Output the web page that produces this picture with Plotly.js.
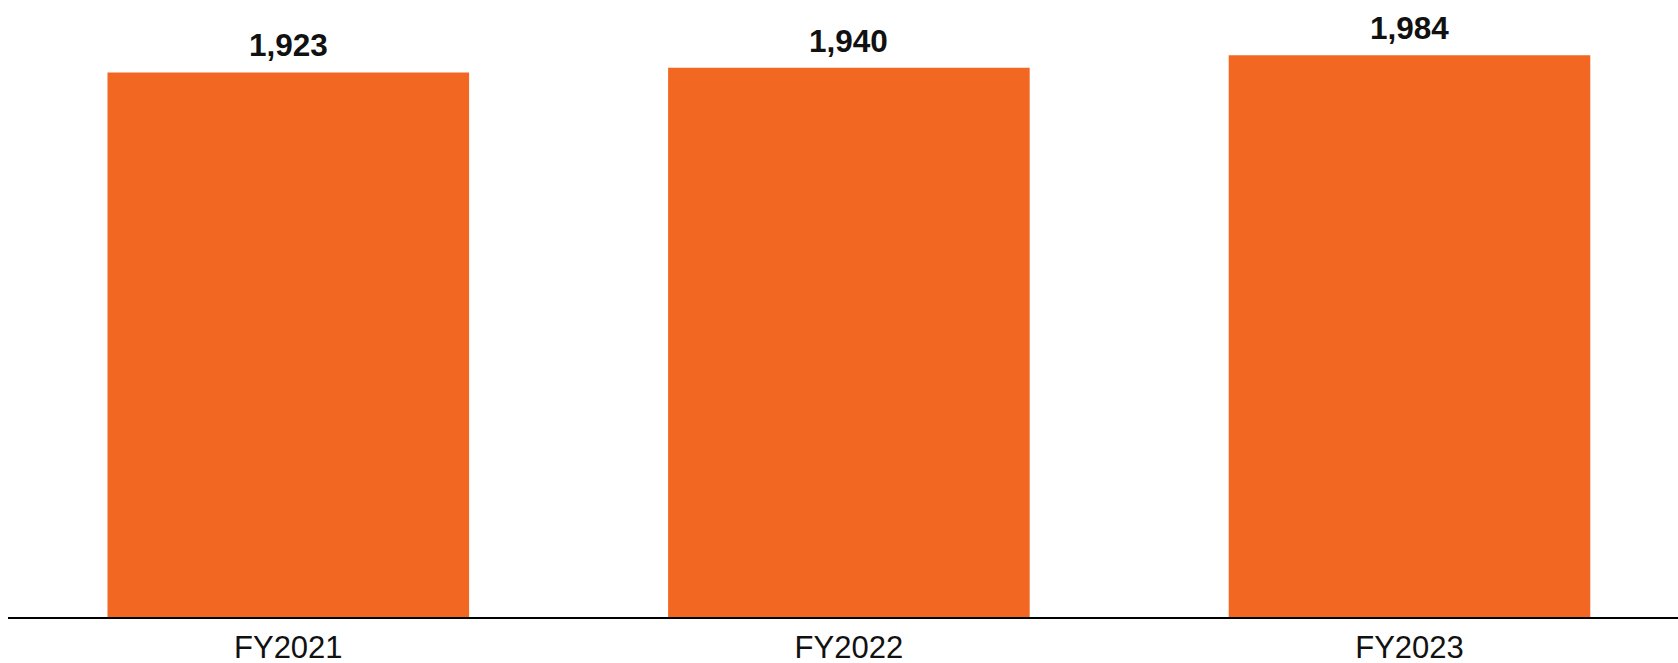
<!DOCTYPE html>
<html>
<head>
<meta charset="utf-8">
<script src="https://cdn.plot.ly/plotly-3.0.1.min.js"></script>
<style>
  html, body { margin: 0; padding: 0; background: #ffffff; }
  #chart { width: 1678px; height: 663px; }
</style>
</head>
<body>
<div id="chart"></div>
<script>
// Fiscal years and their values
const years = ['FY2021', 'FY2022', 'FY2023'];
const values = [1923, 1940, 1984];

const barColor = '#F26722';
const fontFamily = '"Liberation Sans", Arial, sans-serif';

const bars = {
  type: 'bar',
  x: years,
  y: values,
  marker: { color: barColor, line: { width: 0 } },
  hoverinfo: 'skip'
};

// Value labels above each bar
const labels = years.map((yr, i) => ({
  x: yr,
  y: values[i],
  xref: 'x',
  yref: 'y',
  text: '<b>' + values[i].toLocaleString('en-US') + '</b>',
  showarrow: false,
  yanchor: 'bottom',
  yshift: 7,
  font: { family: fontFamily, size: 31.5, color: '#111111' }
}));

const layout = {
  width: 1678,
  height: 663,
  margin: { l: 8, r: 0, t: 0, b: 46 },
  paper_bgcolor: '#ffffff',
  plot_bgcolor: '#ffffff',
  showlegend: false,
  bargap: 0.355,
  xaxis: {
    type: 'category',
    range: [-0.5, 2.479],
    showline: true,
    linecolor: '#000000',
    linewidth: 2,
    ticks: '',
    ticklabelstandoff: 2,
    showgrid: false,
    zeroline: false,
    tickfont: { family: fontFamily, size: 31, color: '#111111' },
    fixedrange: true
  },
  yaxis: {
    range: [0, 2179],
    visible: false,
    showgrid: false,
    zeroline: false,
    fixedrange: true
  },
  annotations: labels
};

Plotly.newPlot('chart', [bars], layout, { displayModeBar: false, staticPlot: true });
</script>
</body>
</html>
